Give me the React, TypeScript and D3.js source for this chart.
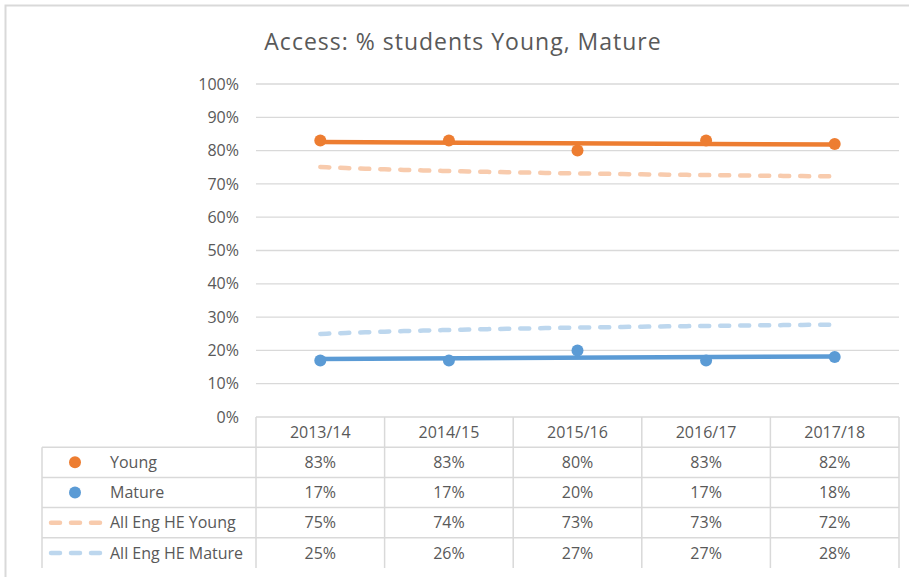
import React from "react";
import * as d3 from "d3";

// chart data
const years = ["2013/14", "2014/15", "2015/16", "2016/17", "2017/18"];
const young = [83, 83, 80, 83, 82];
const mature = [17, 17, 20, 17, 18];
const engYoung = [75, 74, 73, 73, 72];
const engMature = [25, 26, 27, 27, 28];
const yTicks = [0, 10, 20, 30, 40, 50, 60, 70, 80, 90, 100];

const ORANGE = "#ED7D31";
const BLUE = "#5B9BD5";
const LIGHT_ORANGE = "#F8CBAD";
const LIGHT_BLUE = "#BDD7EE";
const TEXT = "#595959";
const GRID = "#D9D9D9";
const FONT = "'Open Sans', 'Noto Sans', sans-serif";

// least squares fit, like an Excel trendline
function fit(xs: number[], ys: number[]) {
  const mx = d3.mean(xs)!;
  const my = d3.mean(ys)!;
  const sxy = d3.sum(xs, (x, i) => (x - mx) * (ys[i] - my));
  const sxx = d3.sum(xs, (x) => (x - mx) ** 2);
  const b = sxy / sxx;
  return (x: number) => my + b * (x - mx);
}

export default function App() {
  const width = 909;
  const height = 577;
  const left = 256;
  const right = 899;
  const top = 84;
  const bottom = 417;
  const rowH = 30.2;

  const x = d3.scaleBand<string>().domain(years).range([left, right]);
  const cx = (i: number) => x(years[i])! + x.bandwidth() / 2;
  const y = d3.scaleLinear().domain([0, 100]).range([bottom, top]);

  // linear trendlines for the markers
  const idx = years.map((_, i) => i + 1);
  const linYoung = fit(idx, young);
  const linMature = fit(idx, mature);
  // logarithmic trendlines for England averages
  const lnIdx = idx.map((v) => Math.log(v));
  const logYoung = fit(lnIdx, engYoung);
  const logMature = fit(lnIdx, engMature);

  const steps = d3.range(1, 5.001, 0.05);
  const line = d3.line<number>().x((t) => cx(0) + (t - 1) * x.step());
  const logLine = (f: (v: number) => number) =>
    line.y((t) => y(f(Math.log(t))))(steps) ?? "";
  const linLine = (f: (v: number) => number) =>
    line.y((t) => y(f(t)))([1, 5]) ?? "";

  const rows = [
    { name: "Young", values: young, kind: "dot", color: ORANGE },
    { name: "Mature", values: mature, kind: "dot", color: BLUE },
    { name: "All Eng HE Young", values: engYoung, kind: "dash", color: LIGHT_ORANGE },
    { name: "All Eng HE Mature", values: engMature, kind: "dash", color: LIGHT_BLUE },
  ];
  const tableLeft = 42;
  const tableBottom = bottom + rowH * 5;

  return (
    <svg width={width} height={height} style={{ position: "absolute", left: 0, top: 0 }} fontFamily={FONT}>
      <rect x={0} y={0} width={width} height={height} fill="#fff" />
      <path d={`M5.5,${height} V5.5 H${width}`} fill="none" stroke={GRID} strokeWidth={2} />

      <text x={463} y={50} textAnchor="middle" fontSize={23} letterSpacing={1} fill={TEXT}>
        Access: % students Young, Mature
      </text>

      {/* grid + y labels */}
      {yTicks.map((t) => (
        <g key={t}>
          {t > 0 && <line x1={left} x2={right} y1={y(t)} y2={y(t)} stroke={GRID} strokeWidth={1.3} />}
          <text x={239} y={y(t)} dy="0.35em" textAnchor="end" fontSize={16} fill={TEXT}>
            {t}%
          </text>
        </g>
      ))}

      {/* england average trendlines */}
      <path d={logLine(logYoung)} fill="none" stroke={LIGHT_ORANGE} strokeWidth={4.5}
        strokeDasharray="9 11" strokeLinecap="round" />
      <path d={logLine(logMature)} fill="none" stroke={LIGHT_BLUE} strokeWidth={4.5}
        strokeDasharray="9 11" strokeLinecap="round" />

      {/* linear trendlines */}
      <path d={linLine(linYoung)} fill="none" stroke={ORANGE} strokeWidth={4.5} />
      <path d={linLine(linMature)} fill="none" stroke={BLUE} strokeWidth={4.5} />

      {young.map((v, i) => (
        <circle key={"y" + i} cx={cx(i)} cy={y(v)} r={6} fill={ORANGE} />
      ))}
      {mature.map((v, i) => (
        <circle key={"m" + i} cx={cx(i)} cy={y(v)} r={6} fill={BLUE} />
      ))}

      {/* data table */}
      <g stroke={GRID} strokeWidth={1.5} fill="none">
        <line x1={left} x2={right} y1={bottom} y2={bottom} />
        {rows.map((_, r) => (
          <line key={r} x1={tableLeft} x2={right} y1={bottom + rowH * (r + 1)} y2={bottom + rowH * (r + 1)} />
        ))}
        <line x1={tableLeft} x2={tableLeft} y1={bottom + rowH} y2={tableBottom} />
        {years.map((yr) => (
          <line key={yr} x1={x(yr)!} x2={x(yr)!} y1={bottom} y2={tableBottom} />
        ))}
        <line x1={right} x2={right} y1={bottom} y2={tableBottom} />
      </g>

      {years.map((yr, i) => (
        <text key={yr} x={cx(i)} y={bottom + rowH / 2} dy="0.35em" textAnchor="middle" fontSize={16} fill={TEXT}>
          {yr}
        </text>
      ))}

      {rows.map((row, r) => {
        const cy = bottom + rowH * (r + 1.5);
        return (
          <g key={row.name}>
            {row.kind === "dot" ? (
              <circle cx={75} cy={cy} r={6} fill={row.color} />
            ) : (
              <line x1={51} x2={101} y1={cy} y2={cy} stroke={row.color} strokeWidth={4.5}
                strokeDasharray="9 11" strokeLinecap="round" />
            )}
            <text x={110} y={cy} dy="0.35em" fontSize={16} fill={TEXT}>
              {row.name}
            </text>
            {row.values.map((v, i) => (
              <text key={i} x={cx(i)} y={cy} dy="0.35em" textAnchor="middle" fontSize={16} fill={TEXT}>
                {v}%
              </text>
            ))}
          </g>
        );
      })}
    </svg>
  );
}
